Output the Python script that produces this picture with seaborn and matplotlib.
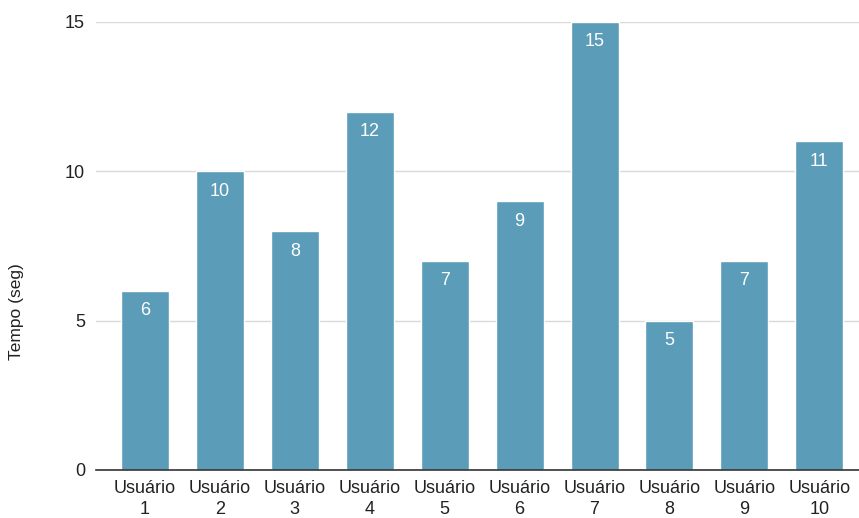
import matplotlib
matplotlib.use("Agg")
import matplotlib.pyplot as plt
import seaborn as sns
import pandas as pd

categories = ["Usuário\n1", "Usuário\n2", "Usuário\n3", "Usuário\n4", "Usuário\n5",
              "Usuário\n6", "Usuário\n7", "Usuário\n8", "Usuário\n9", "Usuário\n10"]
values = [6, 10, 8, 12, 7, 9, 15, 5, 7, 11]
yticks = [0, 5, 10, 15]
ylabel = "Tempo (seg)"

sns.set_theme(style="white")
plt.rcParams['font.family'] = ['Liberation Sans', 'DejaVu Sans']

df = pd.DataFrame({"cat": categories, "val": values})

fig = plt.figure(figsize=(8.59, 5.18), dpi=100)
ax = fig.add_axes([96/859, 1 - 470/518, 1 - 96/859, (470 - 22)/518])

sns.barplot(data=df, x="cat", y="val", color="#5b9cb8", saturation=1, width=0.64, ax=ax)

ax.set_ylim(0, 15)
ax.set_xlim(-0.654, 9.53)
ax.set_yticks(yticks)
ax.set_yticklabels([str(t) for t in yticks], fontsize=13, color="#222222")
ax.yaxis.grid(True, color="#d9d9d9", linewidth=1)
ax.set_axisbelow(True)
for s in ["top", "right", "left"]:
    ax.spines[s].set_visible(False)
ax.spines["bottom"].set_color("#333333")
ax.spines["bottom"].set_linewidth(1.2)
ax.tick_params(axis="y", length=0, pad=8)
ax.tick_params(axis="x", length=0, pad=7, labelsize=13, colors="#222222")
for lbl in ax.get_xticklabels():
    lbl.set_linespacing(1.35)
ax.set_xlabel("")
ax.set_ylabel("")
fig.text(17/859, 1 - 312/518, ylabel, rotation=90, ha="center", va="center",
         fontsize=12.5, color="#222222")

for p, v in zip(ax.patches, values):
    ax.annotate(str(v), (p.get_x() + p.get_width() / 2, p.get_height()),
                xytext=(0, -20), textcoords="offset pixels",
                ha="center", va="center", color="white", fontsize=13)

fig.savefig("out.png", dpi=100)
